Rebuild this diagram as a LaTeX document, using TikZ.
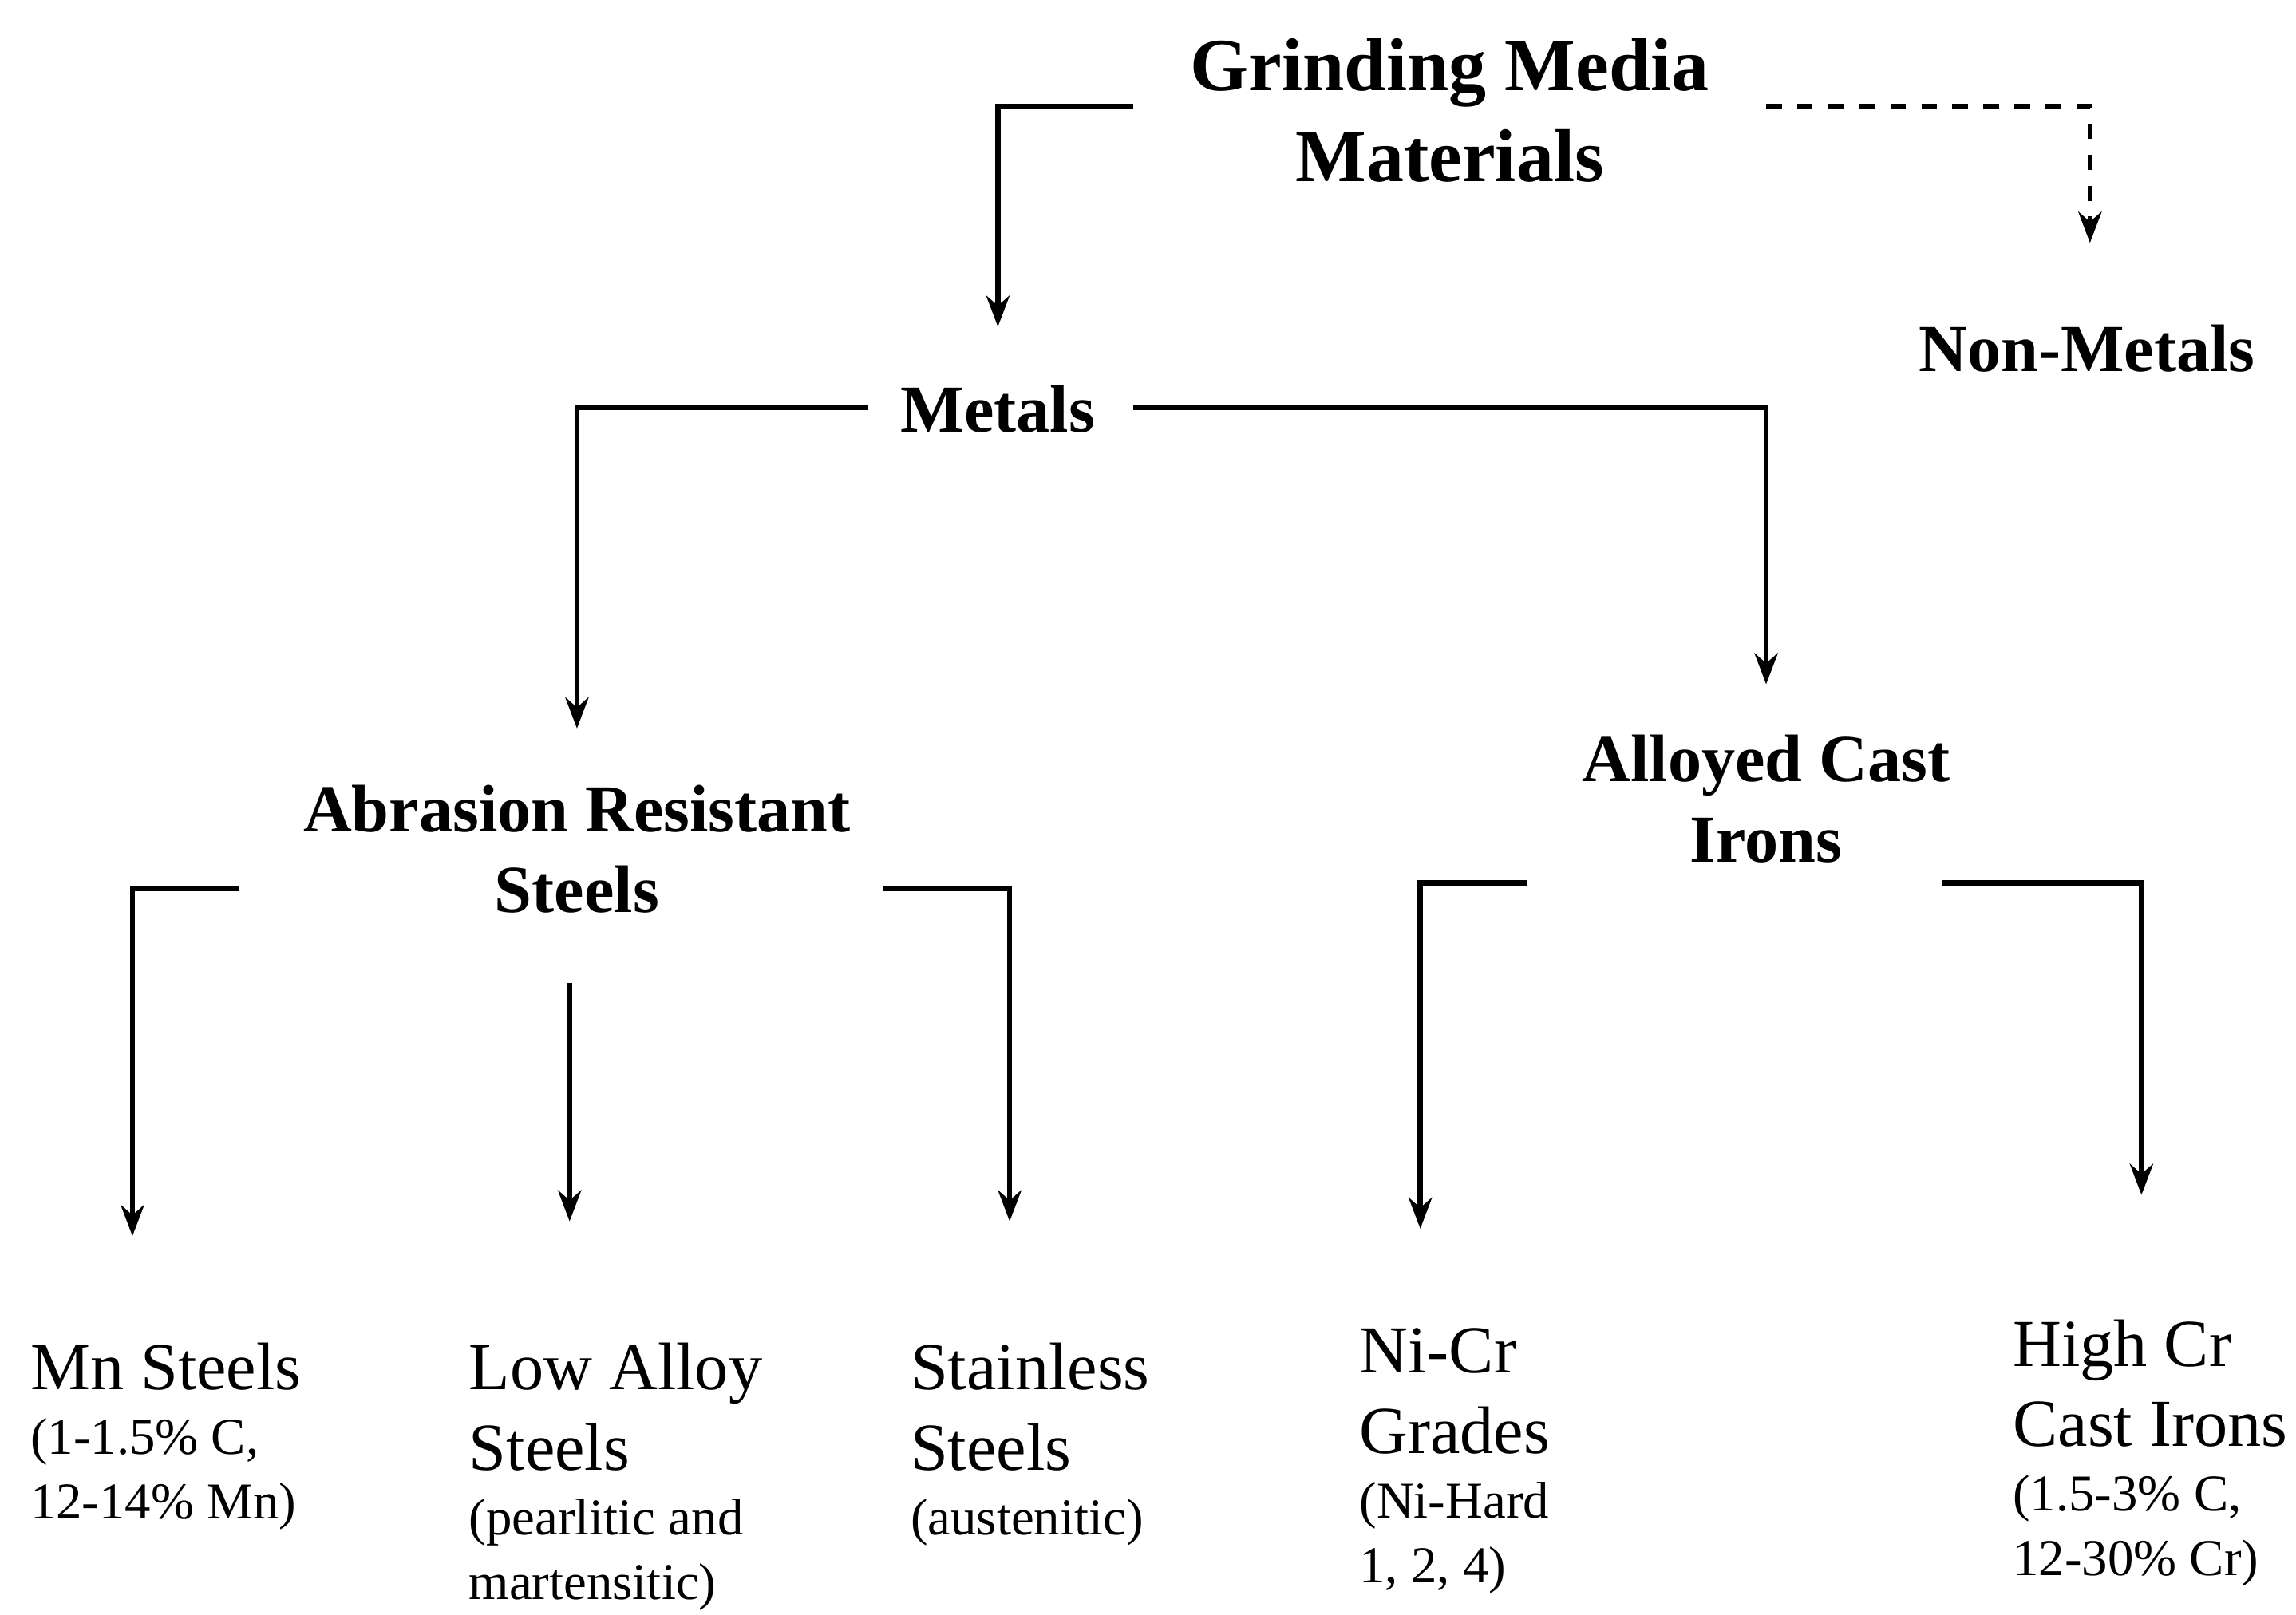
\documentclass[tikz,border=0pt]{standalone}
\usepackage{fontspec}
\setmainfont{Liberation Serif}
\usetikzlibrary{arrows.meta}
\newcommand{\leafnote}{\fontsize{10}{11}\selectfont}
\begin{document}
\begin{tikzpicture}[x=0.1mm, y=-0.1mm,
    head/.style={font=\bfseries\fontsize{13}{15.5}\selectfont, align=center, inner sep=0pt},
    leaf/.style={font=\fontsize{13}{15.5}\selectfont, align=left, anchor=north west, inner sep=0pt},
    link/.style={line width=1pt, -{Stealth[length=6pt, width=4.5pt]}},
  ]
  \useasboundingbox (0,0) rectangle (1560,1097);

  % heads
  \node[head, font=\bfseries\fontsize{14.5}{17.5}\selectfont] (media) at (985,75) {Grinding Media\\Materials};
  \node[head] (nonmet) at (1418,237) {Non-Metals};
  \node[head] (met) at (678,278) {Metals};
  \node[head] (ars) at (392,577) {Abrasion Resistant\\Steels};
  \node[head] (aci) at (1200,543) {Alloyed Cast\\Irons};

  % leaves
  \node[leaf] (mn) at (20,912) {Mn Steels\\[-3pt] \leafnote (1-1.5\% C,\\[-3pt] \leafnote 12-14\% Mn)};
  \node[leaf] (low) at (318,912) {Low Alloy\\Steels\\[-3pt] \leafnote (pearlitic and\\[-3pt] \leafnote martensitic)};
  \node[leaf] (stain) at (618,912) {Stainless\\Steels\\[-3pt] \leafnote (austenitic)};
  \node[leaf] (nicr) at (923,902) {Ni-Cr\\Grades\\[-3pt] \leafnote (Ni-Hard\\[-3pt] \leafnote 1, 2, 4)};
  \node[leaf] (highcr) at (1367,896) {High Cr\\Cast Irons\\[-3pt] \leafnote (1.5-3\% C,\\[-3pt] \leafnote 12-30\% Cr)};

  % start and end points of the links
  \coordinate (mediaL) at (770,72);   \coordinate (mediaR) at (1200,72);
  \coordinate (metIn) at (678,222);   \coordinate (nonmetIn) at (1420,165);
  \coordinate (metL) at (590,277);    \coordinate (metR) at (770,277);
  \coordinate (arsIn) at (392,495);   \coordinate (aciIn) at (1200,465);
  \coordinate (arsL) at (162,604);    \coordinate (arsM) at (387,668);
  \coordinate (arsR) at (600,604);
  \coordinate (aciL) at (1038,600);   \coordinate (aciR) at (1320,600);
  \coordinate (mnIn) at (90,840);     \coordinate (lowIn) at (387,830);
  \coordinate (stainIn) at (686,830); \coordinate (nicrIn) at (965,835);
  \coordinate (highcrIn) at (1455,812);

  \draw[link] (mediaL) -| (metIn);
  \draw[link, dashed] (mediaR) -| (nonmetIn);
  \draw[link] (metL) -| (arsIn);
  \draw[link] (metR) -| (aciIn);
  \draw[link] (arsL) -| (mnIn);
  \draw[link] (arsM) -- (lowIn);
  \draw[link] (arsR) -| (stainIn);
  \draw[link] (aciL) -| (nicrIn);
  \draw[link] (aciR) -| (highcrIn);
\end{tikzpicture}
\end{document}
